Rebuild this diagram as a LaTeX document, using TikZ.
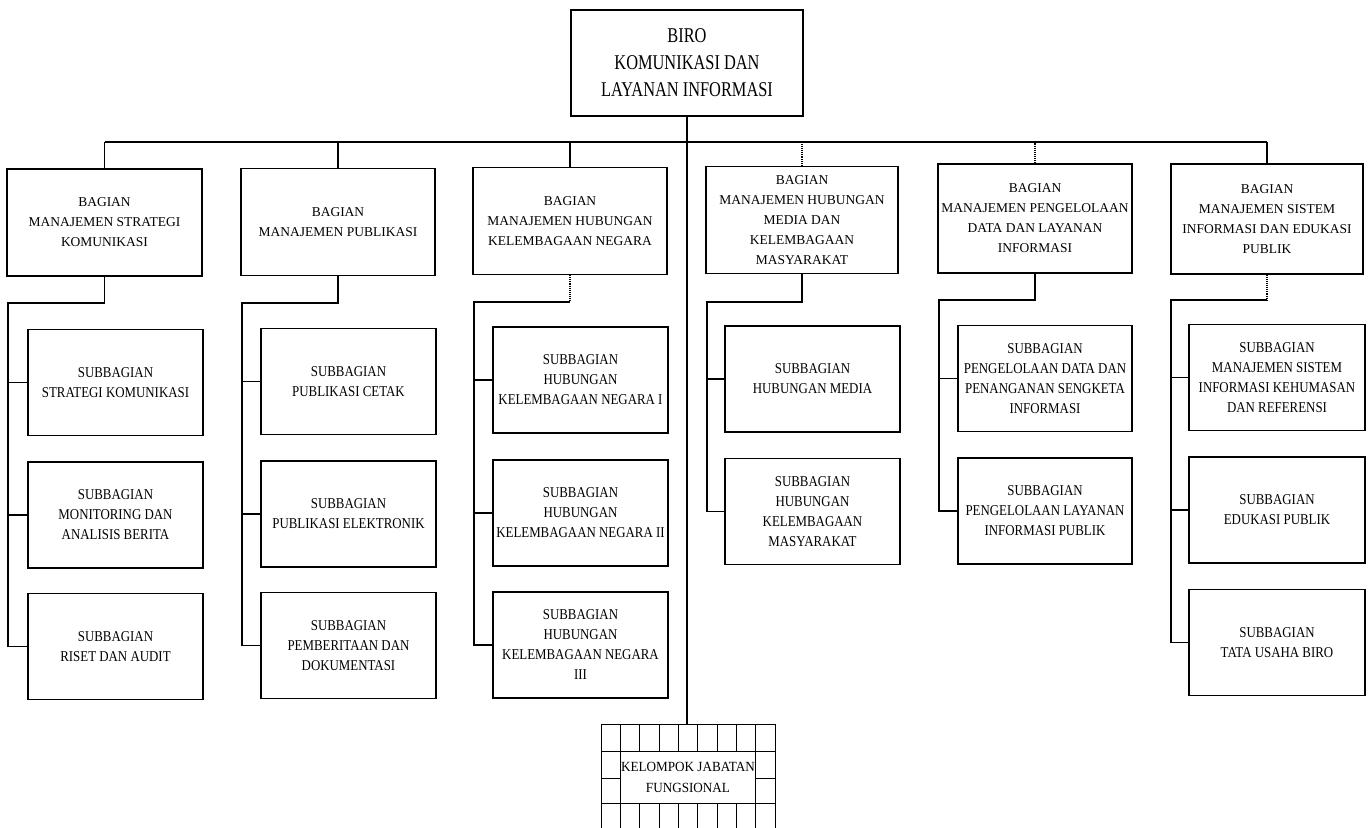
\documentclass[tikz,border=0pt]{standalone}
\usepackage{fontspec}
\setmainfont{Liberation Serif}
\newfontfamily\topfont{Liberation Serif}[FakeStretch=0.78]
\newfontfamily\bagfont{Liberation Serif}
\newfontfamily\subfont{Liberation Serif}[FakeStretch=0.86]
\newfontfamily\kjffont{Liberation Serif}[FakeStretch=0.94]
\begin{document}
\begin{tikzpicture}[x=1pt,y=-1pt,
  box/.style={draw, line width=1.1pt, rectangle, inner sep=0pt, align=center, anchor=center},
  topbox/.style={box, minimum width=232pt, minimum height=106pt,
    font=\topfont\fontsize{21}{27}\selectfont},
  bagbox/.style={box, minimum height=107pt,
    font=\bagfont\fontsize{13.5}{20}\selectfont},
  subbox/.style={box, minimum width=175pt, minimum height=106pt,
    font=\subfont\fontsize{15}{20}\selectfont},
  kjfbox/.style={box, line width=1pt, minimum width=135.4pt, minimum height=52pt,
    font=\kjffont\fontsize{14}{21}\selectfont},
  link/.style={line width=1.1pt},
  brk/.style={line width=1.1pt, densely dotted},
  grid line/.style={line width=1pt}]
\useasboundingbox (0,0) rectangle (1370,827);

% head of the bureau
\node[topbox] (T) at (687,63) {BIRO\\KOMUNIKASI DAN\\LAYANAN INFORMASI};

% divisions
\node[bagbox, minimum width=195pt] (B1) at (104.5,222.5) {BAGIAN\\MANAJEMEN STRATEGI\\KOMUNIKASI};
\node[bagbox, minimum width=194pt] (B2) at (338,222) {BAGIAN\\MANAJEMEN PUBLIKASI};
\node[bagbox, minimum width=194pt] (B3) at (570,221) {BAGIAN\\MANAJEMEN HUBUNGAN\\KELEMBAGAAN NEGARA};
\node[bagbox, minimum width=192pt] (B4) at (802,220) {BAGIAN\\MANAJEMEN HUBUNGAN\\MEDIA DAN\\KELEMBAGAAN\\MASYARAKAT};
\node[bagbox, minimum width=194pt, minimum height=109pt] (B5) at (1035,218.5) {BAGIAN\\MANAJEMEN PENGELOLAAN\\DATA DAN LAYANAN\\INFORMASI};
\node[bagbox, minimum width=192pt, minimum height=110pt] (B6) at (1267,219) {BAGIAN\\MANAJEMEN SISTEM\\INFORMASI DAN EDUKASI\\PUBLIK};

% sub-divisions
\node[subbox] (S11) at (115.5,382.5) {SUBBAGIAN\\STRATEGI KOMUNIKASI};
\node[subbox] (S12) at (115.5,515) {SUBBAGIAN\\MONITORING DAN\\ANALISIS BERITA};
\node[subbox] (S13) at (115.5,646.5) {SUBBAGIAN\\RISET DAN AUDIT};

\node[subbox] (S21) at (348.5,381.5) {SUBBAGIAN\\PUBLIKASI CETAK};
\node[subbox] (S22) at (348.5,514) {SUBBAGIAN\\PUBLIKASI ELEKTRONIK};
\node[subbox] (S23) at (348.5,645.5) {SUBBAGIAN\\PEMBERITAAN DAN\\DOKUMENTASI};

\node[subbox] (S31) at (580.5,380) {SUBBAGIAN\\HUBUNGAN\\KELEMBAGAAN NEGARA I};
\node[subbox] (S32) at (580.5,513) {SUBBAGIAN\\HUBUNGAN\\KELEMBAGAAN NEGARA II};
\node[subbox] (S33) at (580.5,645) {SUBBAGIAN\\HUBUNGAN\\KELEMBAGAAN NEGARA\\III};

\node[subbox] (S41) at (812.5,379) {SUBBAGIAN\\HUBUNGAN MEDIA};
\node[subbox] (S42) at (812.5,511.5) {SUBBAGIAN\\HUBUNGAN\\KELEMBAGAAN\\MASYARAKAT};

\node[subbox, minimum width=174pt] (S51) at (1045,378.5) {SUBBAGIAN\\PENGELOLAAN DATA DAN\\PENANGANAN SENGKETA\\INFORMASI};
\node[subbox, minimum width=174pt] (S52) at (1045,511) {SUBBAGIAN\\PENGELOLAAN LAYANAN\\INFORMASI PUBLIK};

\node[subbox, minimum width=176pt] (S61) at (1277,377.5) {SUBBAGIAN\\MANAJEMEN SISTEM\\INFORMASI KEHUMASAN\\DAN REFERENSI};
\node[subbox, minimum width=176pt] (S62) at (1277,510) {SUBBAGIAN\\EDUKASI PUBLIK};
\node[subbox, minimum width=176pt] (S63) at (1277,642.5) {SUBBAGIAN\\TATA USAHA BIRO};

% functional group with its grid of cells
\node[kjfbox] (K) at (688,777) {KELOMPOK JABATAN\\FUNGSIONAL};
\coordinate (gtop) at (688,724);
\foreach \i in {0,...,9} {
  \draw[grid line] ({601+\i*19.333},724) -- ({601+\i*19.333},751);
  \draw[grid line] ({601+\i*19.333},803) -- ({601+\i*19.333},828);
}
\foreach \gx in {601,620.33,755.67,775}
  \draw[grid line] (\gx,751) -- (\gx,803);
\draw[grid line] (601,724) -- (775,724);
\draw[grid line] (601,751) -- (775,751);
\draw[grid line] (601,803) -- (775,803);
\draw[grid line] (601,778) -- (620.33,778);
\draw[grid line] (755.67,778) -- (775,778);

% main bus
\coordinate (bus) at (0,142);
\draw[link] (T.south) -- (T.south |- gtop);
\draw[link] (B1.north |- bus) -- (B6.north |- bus);
\draw[link] (B1.north) -- (B1.north |- bus);
\draw[link] (B2.north) -- (B2.north |- bus);
\draw[link] (B3.north) -- (B3.north |- bus);
\draw[brk]  (B4.north) -- (B4.north |- bus);
\draw[brk]  (B5.north) -- (B5.north |- bus);
\draw[link] (B6.north) -- (B6.north |- bus);

% column spines
\coordinate (k1) at (8,303);
\coordinate (k2) at (242,303);
\coordinate (k3) at (474,302);
\coordinate (k4) at (707,302);
\coordinate (k5) at (939,300);
\coordinate (k6) at (1171,300);

\draw[link] (B1.south) -- (B1.south |- k1) -- (k1) -- (k1 |- S13.west) -- (S13.west);
\draw[link] (k1 |- S11.west) -- (S11.west);
\draw[link] (k1 |- S12.west) -- (S12.west);

\draw[link] (B2.south) -- (B2.south |- k2) -- (k2) -- (k2 |- S23.west) -- (S23.west);
\draw[link] (k2 |- S21.west) -- (S21.west);
\draw[link] (k2 |- S22.west) -- (S22.west);

\draw[brk]  (B3.south) -- (B3.south |- k3);
\draw[link] (B3.south |- k3) -- (k3) -- (k3 |- S33.west) -- (S33.west);
\draw[link] (k3 |- S31.west) -- (S31.west);
\draw[link] (k3 |- S32.west) -- (S32.west);

\draw[link] (B4.south) -- (B4.south |- k4) -- (k4) -- (k4 |- S42.west) -- (S42.west);
\draw[link] (k4 |- S41.west) -- (S41.west);

\draw[link] (B5.south) -- (B5.south |- k5) -- (k5) -- (k5 |- S52.west) -- (S52.west);
\draw[link] (k5 |- S51.west) -- (S51.west);

\draw[brk]  (B6.south) -- (B6.south |- k6);
\draw[link] (B6.south |- k6) -- (k6) -- (k6 |- S63.west) -- (S63.west);
\draw[link] (k6 |- S61.west) -- (S61.west);
\draw[link] (k6 |- S62.west) -- (S62.west);
\end{tikzpicture}
\end{document}
